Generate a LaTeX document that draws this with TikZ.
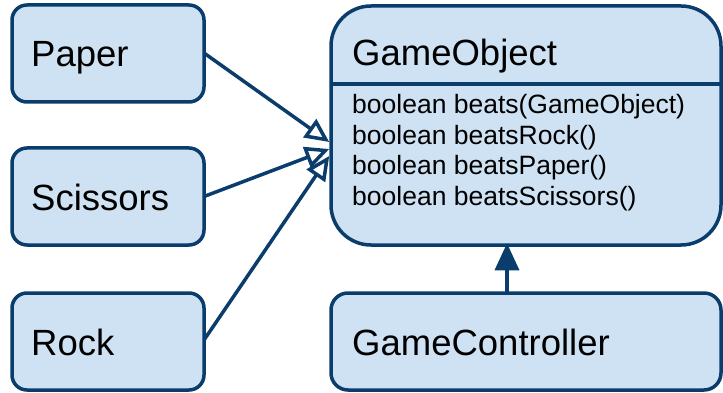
\documentclass[tikz,border=0pt]{standalone}
\usepackage{fontspec}
\setmainfont{Liberation Sans}
\usetikzlibrary{arrows.meta}
\definecolor{edge}{HTML}{0A3D6B}
\definecolor{boxfill}{HTML}{CFE2F3}
\begin{document}
\begin{tikzpicture}[x=1pt,y=-1pt,
  box/.style={draw=edge, fill=boxfill, line width=3.5pt, rounded corners=15pt,
    anchor=north west, inner sep=0pt, outer sep=0pt},
  big/.style={font=\fontsize{36.5}{40}\selectfont, inner sep=0pt, anchor=base west, text=black},
  small/.style={font=\fontsize{26.5}{30}\selectfont, inner sep=0pt, anchor=base west, text=black},
  conn/.style={draw=edge, line width=3.5pt},
  gen/.style={conn, -{Triangle[open, length=24pt 0, width=22pt 0, fill=white]}},
  nav/.style={conn, -{Triangle[length=27pt 0, width=24pt 0]}}]
\useasboundingbox[fill=white] (0,0) rectangle (723,393);

\node[box, minimum width=192pt, minimum height=97pt] (paper) at (12,5) {};
\node[box, minimum width=192pt, minimum height=97pt] (scissors) at (12,148) {};
\node[box, minimum width=192pt, minimum height=97pt] (rock) at (12,293) {};
\node[box, rounded corners=40pt, minimum width=390pt, minimum height=239pt] (go) at (331,6) {};
\node[box, rounded corners=17pt, minimum width=390pt, minimum height=97pt] (gc) at (331,293) {};

\node[big] (paperT) at (31,67) {Paper};
\node[big] (scissorsT) at (31,210) {Scissors};
\node[big] (rockT) at (31,355) {Rock};
\node[big] (goT) at (352,66) {GameObject};
\node[big] (gcT) at (352,355) {GameController};

\coordinate (sep) at (0,84);
\draw[conn] (go.west |- sep) -- (go.east |- sep);

\node[small] (m1) at (352,114) {boolean beats(GameObject)};
\node[small] (m2) at (352,144.5) {boolean beatsRock()};
\node[small] (m3) at (352,175) {boolean beatsPaper()};
\node[small] (m4) at (352,205.5) {boolean beatsScissors()};

\coordinate (h1) at (0,142);
\coordinate (h2) at (0,149);
\coordinate (h3) at (0,156);
\draw[gen] (paper.east |- 0,53) -- ([xshift=-1.75pt]go.west |- h1);
\draw[gen] (scissors.east) -- ([xshift=-1.75pt]go.west |- h2);
\draw[gen] (rock.east |- 0,340) -- ([xshift=-1.75pt]go.west |- h3);

\coordinate (av) at (507,0);
\draw[nav] ([yshift=-1.75pt]gc.north -| av) -- ([yshift=1.75pt]go.south -| av);
\end{tikzpicture}
\end{document}
